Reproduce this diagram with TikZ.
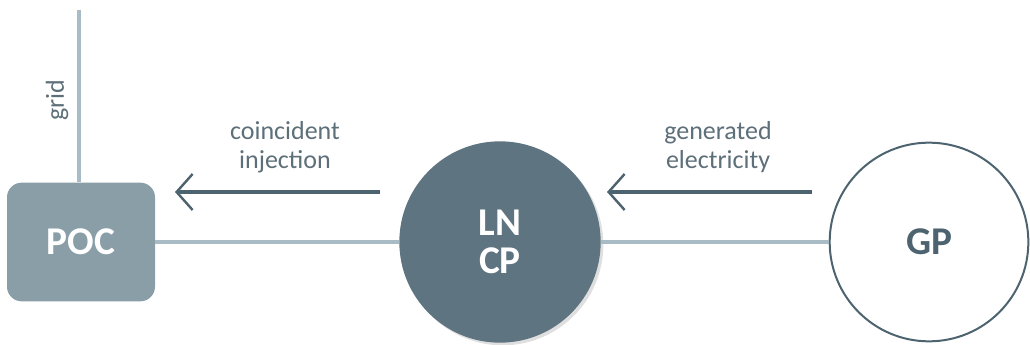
\documentclass[tikz,border=0pt]{standalone}
\usepackage{fontspec}
\setmainfont{Carlito}
\usetikzlibrary{arrows.meta,positioning,shadows}
\definecolor{pocfill}{HTML}{8A9EA8}
\definecolor{lnfill}{HTML}{5E7481}
\definecolor{wirecol}{HTML}{A9BBC4}
\definecolor{flowcol}{HTML}{4D6370}
\definecolor{labelcol}{HTML}{5D6F79}
\begin{document}
\begin{tikzpicture}[x=0.75pt, y=-0.75pt,
  wire/.style = {draw=wirecol, line width=2.6pt},
  flow/.style = {draw=flowcol, line width=2.4pt, -{Straight Barb[length=12pt, width=27pt, line width=1.8pt]}},
  lbl/.style = {text=labelcol, align=center, font=\fontsize{19.5}{21.5}\selectfont},
  big/.style = {align=center, font=\bfseries\fontsize{29.5}{28.5}\selectfont}]
\useasboundingbox (0,0) rectangle (1030,345);
\node[big, fill=pocfill, text=white, rounded corners=11pt, minimum width=111pt, minimum height=89pt] (poc) at (81,242) {POC};
\node[big, circle, fill=lnfill, text=white, minimum size=151pt, inner sep=0pt,
  drop shadow={opacity=0.25, shadow xshift=2pt, shadow yshift=-2pt}] (lncp) at (500,242) {LN\\CP};
\node[big, circle, draw=flowcol, line width=1.5pt, text=flowcol, minimum size=149pt, inner sep=0pt] (gp) at (929,242) {GP};
\coordinate (gridtop) at (79,10);
\draw[wire] (gridtop) -- (gridtop |- poc.north);
\draw[wire] (poc) -- (lncp);
\draw[wire] (lncp) -- (gp);
\node[lbl, rotate=90] (grid) at (57,100) {grid};
\coordinate (inj1) at (380,192);
\coordinate (inj2) at (175,192);
\coordinate (gen1) at (812,192);
\coordinate (gen2) at (607,192);
\draw[flow] (inj1) -- (inj2);
\draw[flow] (gen1) -- (gen2);
\node[lbl] (injlbl) at (285,147) {coincident\\injection};
\node[lbl] (genlbl) at (718,147) {generated\\electricity};
\end{tikzpicture}
\end{document}
